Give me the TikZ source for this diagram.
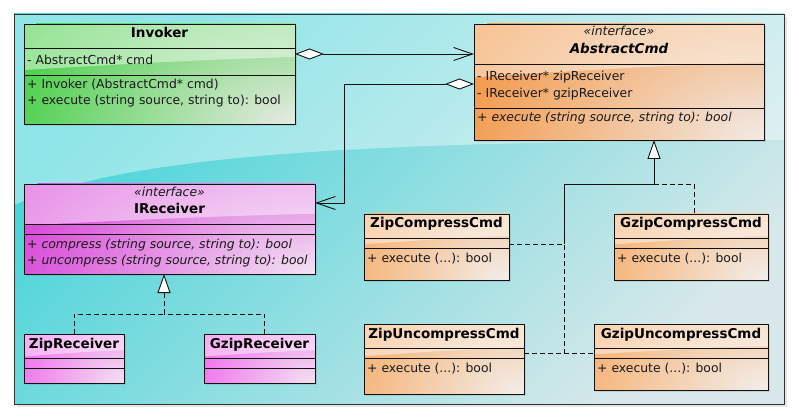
\documentclass[tikz,border=0pt]{standalone}
\usepackage{fontspec}
\setmainfont{DejaVu Sans}
\usetikzlibrary{arrows.meta,shadows,calc}
\definecolor{bgA}{HTML}{45D4D8}
\definecolor{bgB}{HTML}{D8E8EA}
\definecolor{invS}{HTML}{40CE40}
\definecolor{invP}{HTML}{E8EAE4}
\definecolor{acS}{HTML}{F29440}
\definecolor{acP}{HTML}{F2EAE6}
\definecolor{irS}{HTML}{D63CD6}
\definecolor{irP}{HTML}{F2E4F2}
\definecolor{zrS}{HTML}{F06CEC}
\definecolor{zrP}{HTML}{F2E2F2}
\definecolor{ccS}{HTML}{F6B070}
\definecolor{ccP}{HTML}{F2EEEC}
\definecolor{lineC}{HTML}{111111}
\newcommand{\umlfont}{\fontsize{12.4}{14}\selectfont}
\newcommand{\umlbold}{\fontsize{13.5}{15}\selectfont\bfseries}
\newcommand{\umlcls}[9]{%
  \pgfmathsetmacro\bw{#4-#2}\pgfmathsetmacro\bh{#5-#3}%
  \node[clsbox, fill=#8, minimum width=\bw pt, minimum height=\bh pt] (#1) at (#2,#3) {};
  \begin{scope}
    \clip (#1.north west) rectangle (#1.south east);
    \shade[inner color=#9, outer color=#8] (#1.south east)
       ellipse [x radius={1.15*\bw pt}, y radius={1.8*\bh pt}];
  \end{scope}
  \fill[white,opacity=0.45] (#1.north west) -- (#1.north east)
     -- ($(#1.north east)+(0,{0.33*\bh})$)
     .. controls ($(#1.north east)+({-0.4*\bw},{0.36*\bh})$)
     and ($(#1.north west)+({0.25*\bw},{0.42*\bh})$)
     .. ($(#1.north west)+(0,{0.46*\bh})$) -- cycle;
  \draw[boxline] (#2,#6) -- (#4,#6) (#2,#7) -- (#4,#7);
  \draw[boxline] (#1.north west) rectangle (#1.south east);
}
\begin{document}
\begin{tikzpicture}[x=1pt,y=-1pt,
  clsbox/.style={anchor=north west, inner sep=0pt, outer sep=0pt, draw=lineC, line width=0.9pt,
     drop shadow={shadow xshift=2pt,shadow yshift=-2pt,opacity=0.22}},
  boxline/.style={draw=lineC, line width=0.9pt},
  conn/.style={draw=lineC, line width=0.9pt},
  dsh/.style={dash pattern=on 5pt off 3pt},
  txt/.style={anchor=base west, inner sep=0pt, font=\umlfont, text=black!90},
  itxt/.style={anchor=base west, inner sep=0pt, font=\umlfont\itshape, text=black!90},
  ttl/.style={anchor=base, inner sep=0pt, font=\umlbold},
  ste/.style={anchor=base, inner sep=0pt, font=\umlfont\itshape, text=black!90}]
\useasboundingbox (0,0) rectangle (799,419);
\fill[white] (0,0) rectangle (799,419);
% frame background
\path[top color=bgA, bottom color=bgB, shading angle=45,
      drop shadow={shadow xshift=3pt,shadow yshift=-3pt,opacity=0.2}] (14,14) rectangle (784,404);
\fill[white,opacity=0.4] (14,14) -- (784,14) -- (784,140)
   .. controls (400,142) and (140,150) .. (14,205) -- cycle;
\draw[draw=black!80, line width=0.9pt] (14,14) rectangle (784,404);

% Invoker
\umlcls{inv}{24}{24}{295}{124}{48}{75}{invS}{invP}
\node[ttl] (invT) at (159.5,38) {Invoker};
\node[txt] (invA) at (27,65) {- AbstractCmd* cmd};
\node[txt] (invM1) at (27,89) {+ Invoker (AbstractCmd* cmd)};
\node[txt] (invM2) at (27,105) {+ execute (string source, string to): bool};

% AbstractCmd
\umlcls{acmd}{474}{24}{764}{140}{64}{108}{acS}{acP}
\node[ste] (acS1) at (619,36) {«interface»};
\node[ttl, font=\umlbold\itshape] (acT) at (619,54) {AbstractCmd};
\node[txt] (acA1) at (477,81) {- IReceiver* zipReceiver};
\node[txt] (acA2) at (477,98) {- IReceiver* gzipReceiver};
\node[itxt] (acM1) at (477,122) {+ execute (string source, string to): bool};

% IReceiver
\umlcls{irec}{24}{184}{315}{274}{224}{234}{irS}{irP}
\node[ste] (irS1) at (169.5,197) {«interface»};
\node[ttl] (irT) at (169.5,214) {IReceiver};
\node[itxt] (irM1) at (27,248) {+ compress (string source, string to): bool};
\node[itxt] (irM2) at (27,265) {+ uncompress (string source, string to): bool};

% receivers
\umlcls{zrec}{24}{334}{124}{383}{358}{368}{zrS}{zrP}
\node[ttl] (zrT) at (74,348) {ZipReceiver};
\umlcls{grec}{204}{334}{315}{383}{358}{368}{zrS}{zrP}
\node[ttl] (grT) at (259.5,348) {GzipReceiver};

% commands
\umlcls{zcc}{364}{214}{509}{280}{238}{248}{ccS}{ccP}
\node[ttl] (zccT) at (436.5,228) {ZipCompressCmd};
\node[txt] (zccM) at (367,262) {+ execute (...): bool};
\umlcls{gcc}{614}{214}{768}{280}{238}{248}{ccS}{ccP}
\node[ttl] (gccT) at (691,228) {GzipCompressCmd};
\node[txt] (gccM) at (617,262) {+ execute (...): bool};
\umlcls{zuc}{364}{324}{524}{394}{348}{358}{ccS}{ccP}
\node[ttl] (zucT) at (444,338) {ZipUncompressCmd};
\node[txt] (zucM) at (367,372) {+ execute (...): bool};
\umlcls{guc}{594}{324}{768}{390}{348}{358}{ccS}{ccP}
\node[ttl] (gucT) at (681,338) {GzipUncompressCmd};
\node[txt] (gucM) at (597,372) {+ execute (...): bool};

% associations
\draw[conn, {Diamond[fill=white,length=29pt,width=11pt]}-{Straight Barb[length=19pt,width=13pt]}]
  ($(inv.north east)+(0,30)$) -- ($(acmd.north west)+(0,30)$);
\coordinate (k1) at (344,203);
\draw[conn, {Diamond[fill=white,length=29pt,width=11pt]}-{Straight Barb[length=19pt,width=13pt]}]
  ($(acmd.north west)+(0,60)$) -| (k1) -- ($(irec.north east)+(0,19)$);

% IReceiver realization
\coordinate (r1) at (164,293);
\coordinate (r2) at (164,314);
\draw[conn, -{Triangle[fill=white,length=19pt,width=13pt]}] (r1) -- (irec.south -| r1);
\draw[conn, dsh] (r1) -- (r2);
\draw[conn, dsh] (zrec.north) |- (r2);
\draw[conn, dsh] ($(grec.north)+(5,0)$) |- (r2);

% AbstractCmd family
\coordinate (g1) at (654,184);
\coordinate (g2) at (564,244);
\coordinate (g3) at (564,353);
\draw[conn, -{Triangle[fill=white,length=19pt,width=13pt]}] (g1) -- (acmd.south -| g1);
\draw[conn] (g1) -| (g2);
\draw[conn, dsh] (zcc.east |- g2) -- (g2) -- (g3);
\draw[conn, dsh] (zuc.east |- g3) -- (guc.west |- g3);
\draw[conn, dsh] (g1) -| ($(gcc.north)+(3,0)$);
\end{tikzpicture}
\end{document}
